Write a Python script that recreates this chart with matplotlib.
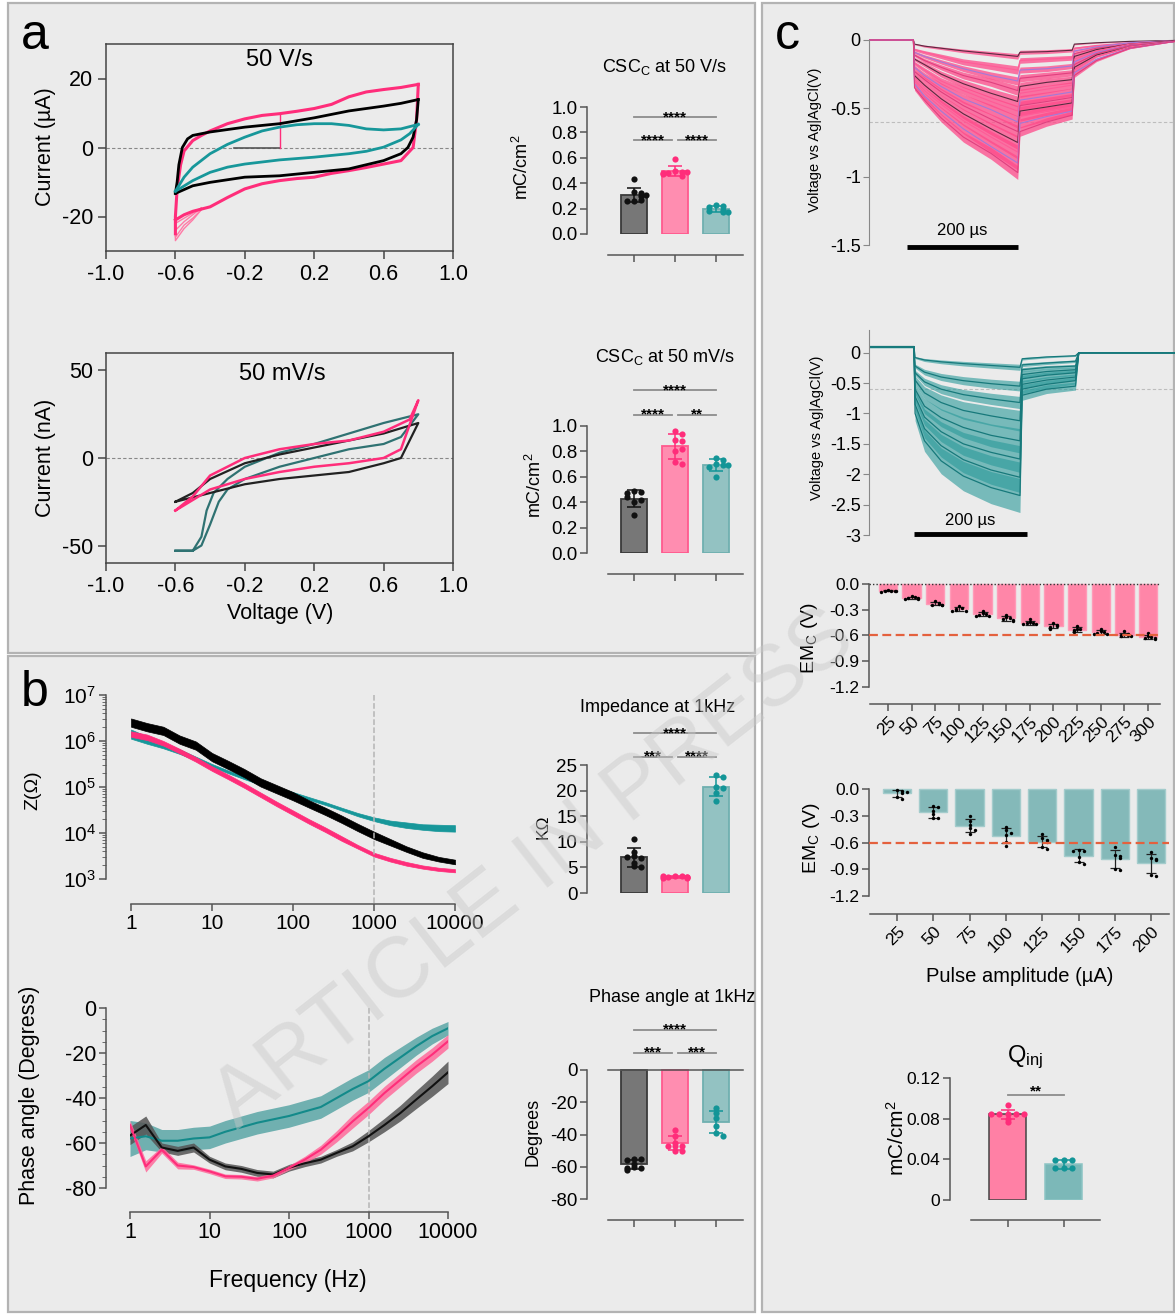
import matplotlib
matplotlib.use('Agg')
import matplotlib.pyplot as plt
import numpy as np
from matplotlib.patches import Rectangle
from matplotlib.ticker import NullLocator, NullFormatter, FixedLocator, LogFormatterMathtext

plt.rcParams['font.family'] = ['Liberation Sans', 'DejaVu Sans']
plt.rcParams['mathtext.fontset'] = 'custom'
plt.rcParams['mathtext.rm'] = 'Liberation Sans'
plt.rcParams['mathtext.it'] = 'Liberation Sans:italic'
plt.rcParams['mathtext.bf'] = 'Liberation Sans:bold'
plt.rcParams['axes.unicode_minus'] = False

# ---------------- data ----------------
# panel a, CV at 50 V/s (V, uA)
cv_fast_black_up_v = [-0.6, -0.59, -0.58, -0.56, -0.53, -0.5, -0.4, -0.2, 0.0, 0.2, 0.4, 0.6, 0.7, 0.8]
cv_fast_black_up_i = [-13.3, -10, -5, 0, 2.5, 3.5, 4.5, 5.9, 6.9, 8.6, 10.6, 12.0, 12.8, 13.9]
cv_fast_black_dn_v = [0.8, 0.79, 0.77, 0.74, 0.7, 0.6, 0.4, 0.2, 0.0, -0.2, -0.4, -0.5, -0.6]
cv_fast_black_dn_i = [13.9, 8, 3, 0, -1.8, -3.8, -6.2, -7.2, -8.2, -8.6, -10.1, -11.1, -13.3]
cv_fast_pink_up_v = [-0.6, -0.6, -0.59, -0.57, -0.55, -0.5, -0.45, -0.4, -0.3, -0.2, -0.1, 0.0, 0.1, 0.2, 0.3, 0.4, 0.5, 0.6, 0.7, 0.8]
cv_fast_pink_up_i = [-25, -20, -12, -5, -1, 2, 3.5, 4.8, 6.9, 8.3, 9.3, 9.8, 10.5, 11.3, 12.5, 14.7, 16.1, 16.8, 17.4, 18.3]
cv_fast_pink_dn_v = [0.8, 0.79, 0.77, 0.7, 0.6, 0.5, 0.4, 0.3, 0.2, 0.1, 0.0, -0.1, -0.2, -0.3, -0.4, -0.5, -0.55, -0.6]
cv_fast_pink_dn_i = [18.3, 8, 0, -3.8, -4.8, -5.8, -6.7, -7.5, -8.6, -9.0, -9.6, -10.5, -12.0, -14.5, -17.2, -18.5, -19.5, -21]
cv_fast_pink_fan_v = [-0.45, -0.5, -0.55, -0.6]
cv_fast_pink_fan_i = [[-17.5, -19.0, -20.5, -22.0], [-17.5, -19.5, -21.5, -24.0],
                      [-18.0, -20.5, -22.5, -26.0], [-18.0, -21.0, -23.5, -27.0]]
cv_fast_teal_up_v = [-0.6, -0.55, -0.5, -0.4, -0.3, -0.2, -0.1, 0.0, 0.1, 0.2, 0.3, 0.4, 0.5, 0.6, 0.7, 0.8]
cv_fast_teal_up_i = [-12.7, -8.6, -5.7, -1.8, 0.9, 3.0, 4.8, 5.9, 6.6, 6.9, 6.9, 6.4, 5.4, 5.1, 5.4, 6.7]
cv_fast_teal_dn_v = [0.8, 0.75, 0.7, 0.6, 0.5, 0.4, 0.2, 0.0, -0.2, -0.3, -0.4, -0.5, -0.6]
cv_fast_teal_dn_i = [6.7, 4.0, 2.2, 0.1, -1.1, -1.8, -2.8, -3.6, -4.8, -5.7, -7.2, -9.6, -12.7]
cv_start_v = [-0.26, 0.0, 0.0]
cv_start_i = [0.0, 0.0, 9.8]

# panel a, CV at 50 mV/s (V, nA)
cv_slow_black_v = [-0.6, -0.5, -0.4, -0.2, 0.0, 0.2, 0.4, 0.6, 0.8, 0.7, 0.6, 0.4, 0.2, 0.0, -0.2, -0.4, -0.6]
cv_slow_black_i = [-25, -20, -12, -3, 2, 6, 10, 14, 20, 0, -3, -8, -10, -12, -15, -20, -25]
cv_slow_pink_v = [-0.6, -0.5, -0.4, -0.2, 0.0, 0.2, 0.4, 0.6, 0.75, 0.8, 0.7, 0.6, 0.4, 0.2, 0.0, -0.2, -0.4, -0.6]
cv_slow_pink_i = [-30, -22, -10, 0, 5, 8, 10, 15, 22, 33, 5, 0, -3, -5, -8, -12, -18, -30]
cv_slow_teal_v = [-0.6, -0.5, -0.45, -0.42, -0.38, -0.3, -0.2, 0.0, 0.2, 0.4, 0.6, 0.8,
                  0.7, 0.6, 0.4, 0.2, 0.0, -0.2, -0.3, -0.35, -0.4, -0.45, -0.5, -0.6]
cv_slow_teal_i = [-53, -53, -45, -30, -20, -12, -5, 3, 8, 14, 20, 25,
                  12, 8, 5, 0, -5, -12, -18, -25, -38, -50, -53, -53]

# CSC bars (mC/cm2): black, pink, teal
csc_fast = [[0.43, 0.33, 0.32, 0.30, 0.31, 0.26, 0.27, 0.26],
            [0.59, 0.50, 0.49, 0.48, 0.49, 0.46, 0.47, 0.48],
            [0.23, 0.22, 0.21, 0.19, 0.17, 0.18, 0.17]]
csc_slow = [[0.49, 0.48, 0.47, 0.40, 0.42, 0.30, 0.44],
            [0.96, 0.94, 0.89, 0.88, 0.80, 0.72, 0.70, 0.82],
            [0.75, 0.73, 0.70, 0.69, 0.68, 0.69, 0.60]]

# panel b, impedance spectra
freq = [1, 1.58, 2.51, 3.98, 6.31, 10, 15.8, 25.1, 39.8, 63.1, 100, 158, 251, 398, 631,
        1000, 1585, 2512, 3981, 6310, 10000]
logz_black = [6.40, 6.30, 6.22, 6.03, 5.90, 5.65, 5.48, 5.30, 5.10, 4.95, 4.80, 4.63, 4.47,
              4.30, 4.12, 3.95, 3.80, 3.65, 3.52, 3.43, 3.37]
logz_pink = [6.15, 6.08, 5.95, 5.78, 5.60, 5.40, 5.22, 5.03, 4.83, 4.63, 4.44, 4.25, 4.07,
             3.88, 3.70, 3.53, 3.42, 3.33, 3.26, 3.21, 3.18]
logz_teal = [6.15, 6.02, 5.90, 5.77, 5.62, 5.47, 5.33, 5.20, 5.08, 4.97, 4.86, 4.75, 4.64,
             4.52, 4.40, 4.30, 4.22, 4.17, 4.13, 4.11, 4.10]
logz_black_sd = [0.09, 0.09, 0.09, 0.09, 0.09, 0.09, 0.09, 0.09, 0.09, 0.09, 0.09, 0.08, 0.08,
                 0.08, 0.08, 0.08, 0.07, 0.06, 0.06, 0.05, 0.05]
logz_pink_sd = [0.06, 0.06, 0.05, 0.05, 0.05, 0.05, 0.05, 0.05, 0.05, 0.05, 0.05, 0.05, 0.05,
                0.05, 0.04, 0.04, 0.04, 0.04, 0.035, 0.035, 0.035]
logz_teal_sd = [0.10, 0.08, 0.06, 0.05, 0.04, 0.03, 0.03, 0.03, 0.03, 0.03, 0.03, 0.03, 0.03,
                0.03, 0.035, 0.04, 0.05, 0.06, 0.06, 0.07, 0.07]
phase_black = [-56.7, -52, -62, -63.5, -62, -67.4, -70.4, -71.5, -73.3, -74, -71, -69, -67.4,
               -64.4, -61.5, -57, -52, -46.7, -40.7, -34.8, -28.6]
phase_pink = [-52, -70.4, -63, -70, -70.7, -72.6, -74.8, -75, -75.9, -74.5, -71, -67.4, -63,
              -57, -50.4, -44.4, -37.8, -31.9, -26, -20.7, -14.8]
phase_teal = [-58, -57, -59, -59, -58, -57.5, -55, -53, -51, -49.5, -48, -46, -44, -40, -36,
              -32.5, -27, -22, -17, -12.5, -9]
phase_black_sd = [4, 4, 2, 2, 2, 1.5, 1.5, 1.5, 1.5, 1.5, 1.5, 1.5, 1.5, 1.5, 2, 2.5, 3, 3.5, 4, 4.5, 5]
phase_pink_sd = [2, 2.5, 1.5, 1.5, 1, 1, 1, 1, 1, 1, 1, 1.5, 2, 2.5, 3, 3, 3, 3, 3, 3, 3]
phase_teal_sd = [8, 6, 5, 5, 5, 5, 5, 5, 5, 5, 5, 5, 5, 5, 5, 5, 5, 4.5, 4, 3.5, 3]

imp_1k = [[10.6, 8.0, 7.2, 6.8, 5.9, 5.2, 5.0, 7.0],
          [3.4, 3.3, 3.2, 3.2, 3.0, 3.1, 3.3, 2.9],
          [23.0, 22.6, 20.8, 20.6, 19.5, 18.0]]
phase_1k = [[-55, -55, -56, -58, -60, -61, -61, -62],
            [-37.5, -41, -45, -47, -47, -47, -50, -50],
            [-23.3, -26.8, -30, -34.6, -39, -40.8]]

# panel c, voltage transients (us, V)
vt_pink_t = [0, 80, 82, 100, 130, 170, 220, 268, 272, 320, 366, 370, 410, 470, 551]
vt_pink = [
    [0, 0, -0.03, -0.045, -0.06, -0.08, -0.10, -0.12, -0.09, -0.085, -0.075, -0.03, -0.02, -0.01, -0.003],
    [0, 0, -0.07, -0.09, -0.12, -0.16, -0.19, -0.22, -0.15, -0.14, -0.13, -0.06, -0.04, -0.02, -0.005],
    [0, 0, -0.09, -0.12, -0.16, -0.21, -0.26, -0.30, -0.22, -0.21, -0.19, -0.08, -0.05, -0.02, -0.005],
    [0, 0, -0.11, -0.15, -0.20, -0.26, -0.31, -0.37, -0.28, -0.26, -0.24, -0.10, -0.06, -0.03, -0.005],
    [0, 0, -0.14, -0.18, -0.25, -0.32, -0.39, -0.45, -0.34, -0.31, -0.29, -0.12, -0.07, -0.03, -0.005],
    [0, 0, -0.17, -0.22, -0.30, -0.37, -0.45, -0.52, -0.39, -0.36, -0.33, -0.14, -0.08, -0.03, -0.01],
    [0, 0, -0.20, -0.26, -0.34, -0.43, -0.51, -0.60, -0.44, -0.41, -0.38, -0.16, -0.09, -0.04, -0.01],
    [0, 0, -0.23, -0.29, -0.38, -0.48, -0.58, -0.67, -0.48, -0.45, -0.42, -0.18, -0.10, -0.04, -0.01],
    [0, 0, -0.26, -0.33, -0.43, -0.54, -0.65, -0.75, -0.52, -0.49, -0.46, -0.20, -0.11, -0.05, -0.01],
    [0, 0, -0.29, -0.37, -0.47, -0.59, -0.71, -0.82, -0.56, -0.52, -0.49, -0.22, -0.12, -0.05, -0.01],
    [0, 0, -0.32, -0.41, -0.52, -0.65, -0.78, -0.90, -0.61, -0.56, -0.52, -0.24, -0.14, -0.06, -0.01],
    [0, 0, -0.35, -0.44, -0.57, -0.71, -0.83, -0.97, -0.67, -0.60, -0.55, -0.26, -0.15, -0.06, -0.01],
]
vt_pink_sd = [0.02, 0.03, 0.03, 0.035, 0.04, 0.04, 0.045, 0.045, 0.05, 0.05, 0.05, 0.05]
vt_teal_t = [0, 81, 83, 100, 130, 170, 220, 272, 276, 320, 372, 378, 430, 551]
vt_teal = [
    [0.1, 0.1, -0.08, -0.12, -0.15, -0.18, -0.21, -0.24, -0.10, -0.07, -0.05, 0, 0, 0],
    [0.1, 0.1, -0.22, -0.32, -0.40, -0.46, -0.51, -0.55, -0.20, -0.17, -0.14, 0, 0, 0],
    [0.1, 0.1, -0.33, -0.48, -0.60, -0.69, -0.76, -0.82, -0.28, -0.24, -0.22, 0, 0, 0],
    [0.1, 0.1, -0.45, -0.66, -0.82, -0.95, -1.04, -1.12, -0.36, -0.31, -0.28, 0, 0, 0],
    [0.1, 0.1, -0.60, -0.88, -1.07, -1.23, -1.36, -1.45, -0.43, -0.37, -0.33, 0, 0, 0],
    [0.1, 0.1, -0.72, -1.06, -1.30, -1.50, -1.64, -1.75, -0.52, -0.45, -0.40, 0, 0, 0],
    [0.1, 0.1, -0.85, -1.25, -1.53, -1.76, -1.93, -2.05, -0.60, -0.52, -0.46, 0, 0, 0],
    [0.1, 0.1, -1.00, -1.45, -1.78, -2.03, -2.22, -2.35, -0.70, -0.60, -0.55, 0, 0, 0],
]
vt_teal_sd = [0.05, 0.08, 0.10, 0.17, 0.20, 0.22, 0.25, 0.28]

# EMc (V) per pulse amplitude
amp_pink = ['25', '50', '75', '100', '125', '150', '175', '200', '225', '250', '275', '300']
emc_pink = [[-0.07, -0.08, -0.08, -0.08, -0.09, -0.08], [-0.14, -0.15, -0.16, -0.16, -0.17, -0.17],
            [-0.20, -0.22, -0.23, -0.24, -0.24, -0.25], [-0.26, -0.28, -0.29, -0.30, -0.31, -0.31],
            [-0.31, -0.34, -0.35, -0.36, -0.37, -0.37], [-0.36, -0.39, -0.40, -0.41, -0.42, -0.43],
            [-0.41, -0.44, -0.45, -0.46, -0.47, -0.47], [-0.45, -0.48, -0.49, -0.50, -0.51, -0.52],
            [-0.49, -0.52, -0.53, -0.54, -0.55, -0.56], [-0.52, -0.55, -0.56, -0.57, -0.58, -0.58],
            [-0.55, -0.58, -0.59, -0.60, -0.61, -0.61], [-0.57, -0.61, -0.62, -0.63, -0.63, -0.64]]
amp_teal = ['25', '50', '75', '100', '125', '150', '175', '200']
emc_teal = [[-0.01, -0.02, -0.04, -0.03, -0.09, -0.11], [-0.19, -0.20, -0.25, -0.28, -0.32, -0.33],
            [-0.30, -0.36, -0.40, -0.44, -0.46, -0.50], [-0.43, -0.46, -0.49, -0.52, -0.59, -0.64],
            [-0.51, -0.55, -0.57, -0.59, -0.65, -0.67], [-0.68, -0.69, -0.69, -0.76, -0.82, -0.84],
            [-0.65, -0.74, -0.75, -0.77, -0.90, -0.91], [-0.71, -0.77, -0.79, -0.80, -0.96, -0.97]]
qinj = [[0.093, 0.085, 0.085, 0.085, 0.085, 0.085, 0.080, 0.077],
        [0.039, 0.039, 0.039, 0.031, 0.031, 0.031]]

# ---------------- style ----------------
PINK = '#ff2d7a'
TEAL = '#17979a'
SPINE = '#555555'
BAR_FILL = ['#777777', '#ff8db0', '#93c2c2']
BAR_EDGE = ['#3a3a3a', '#ff5a8e', '#6fb0b0']
DOT = ['#111111', '#ff2d7a', '#139597']

W, H = 1175, 1314
fig = plt.figure(figsize=(W / 100, H / 100), dpi=100, facecolor='white')


def px_axes(l, t, r, b):
    ax = fig.add_axes([l / W, 1 - b / H, (r - l) / W, (b - t) / H])
    ax.set_facecolor('none')
    return ax


def ftext(x, y, s, **kw):
    kw.setdefault('ha', 'center')
    kw.setdefault('va', 'center')
    return fig.text(x / W, 1 - y / H, s, **kw)


def open_axes(ax, size):
    for s in ['top', 'right']:
        ax.spines[s].set_visible(False)
    for s in ['left', 'bottom']:
        ax.spines[s].set_color(SPINE)
        ax.spines[s].set_linewidth(1.1)
    ax.tick_params(colors=SPINE, labelcolor='black', labelsize=size, length=5, width=1.1, pad=2)


def swarm(v, tol, step, lim=0.3):
    # spread points of similar value sideways (layout only)
    xs, done = [], []
    for y in v:
        k = sum(1 for yy in done if abs(yy - y) < tol)
        off = ((k + 1) // 2) * step * (1 if k % 2 else -1)
        xs.append(float(np.clip(off, -lim, lim)))
        done.append(y)
    return np.array(xs)


def dot_bars(ax, groups, width, fills, edges, dots, tol, s=20, errc=None):
    for i, v in enumerate(groups):
        m = np.mean(v)
        sd = np.std(v, ddof=1)
        ax.bar(i, m, width, color=fills[i], edgecolor=edges[i], lw=1.3, zorder=1)
        ax.errorbar(i, m, yerr=sd, color=errc or dots[i], capsize=5, lw=1.1, capthick=1.1, zorder=2)
        ax.scatter(i + swarm(v, tol, 0.17), v, s=s, color=dots[i], zorder=3, linewidths=0)


def sig(ax, x1, x2, y, txt, dy):
    ax.plot([x1, x2], [y, y], color='#8c8c8c', lw=1.3, clip_on=False)
    ax.text((x1 + x2) / 2, y + dy, txt, ha='center', va='center', fontsize=11, fontweight='bold')


# panel frames
for (l, t, r, b) in [(8, 3, 755, 653), (8, 656, 755, 1312), (762, 3, 1174, 1312)]:
    fig.patches.append(Rectangle((l / W, 1 - b / H), (r - l) / W, (b - t) / H, transform=fig.transFigure,
                                 facecolor='#ebebeb', edgecolor='#b3b3b3', lw=1.6, zorder=-10))

ftext(35, 36, 'a', fontsize=36)
ftext(35, 693, 'b', fontsize=36)
ftext(787, 36, 'c', fontsize=36)


# ---------------- panel a: CV curves ----------------
def cv_box(ax, ylim, yticks):
    ax.set_xlim(-1, 1)
    ax.set_ylim(*ylim)
    ax.set_xticks([-1.0, -0.6, -0.2, 0.2, 0.6, 1.0])
    ax.set_xticklabels(['-1.0', '-0.6', '-0.2', '0.2', '0.6', '1.0'])
    ax.set_yticks(yticks)
    for s in ax.spines.values():
        s.set_color('#444444')
        s.set_linewidth(1.1)
    ax.tick_params(colors='#444444', labelcolor='black', labelsize=15.5, length=6, width=1.1, pad=3)
    ax.axhline(0, color='#888888', lw=0.8, ls=(0, (3, 2)), zorder=0)


ax = px_axes(106, 44, 453, 251)
cv_box(ax, (-30, 30), [-20, 0, 20])
ax.plot(cv_start_v[:2], cv_start_i[:2], color='#555555', lw=1.2)
ax.plot(cv_start_v[1:], cv_start_i[1:], color=PINK, lw=1.0)
for fi in cv_fast_pink_fan_i:
    ax.plot(cv_fast_pink_fan_v + [-0.6], fi + [-20], color='#ff7aa6', lw=1.0)
ax.plot(cv_fast_pink_up_v, cv_fast_pink_up_i, color=PINK, lw=2.2)
ax.plot(cv_fast_pink_dn_v, cv_fast_pink_dn_i, color=PINK, lw=2.2)
ax.plot(cv_fast_black_up_v, cv_fast_black_up_i, color='black', lw=2.0)
ax.plot(cv_fast_black_dn_v, cv_fast_black_dn_i, color='black', lw=2.0)
ax.plot(cv_fast_teal_up_v, cv_fast_teal_up_i, color=TEAL, lw=2.0)
ax.plot(cv_fast_teal_dn_v, cv_fast_teal_dn_i, color=TEAL, lw=2.0)
ftext(279, 60, '50 V/s', fontsize=17)
ftext(45, 147, 'Current (µA)', fontsize=15.5, rotation=90)

ax = px_axes(106, 353, 453, 563)
cv_box(ax, (-60, 60), [-50, 0, 50])
ax.plot(cv_slow_teal_v, cv_slow_teal_i, color='#2f7272', lw=1.6)
ax.plot(cv_slow_black_v, cv_slow_black_i, color='#222222', lw=1.6)
ax.plot(cv_slow_pink_v, cv_slow_pink_i, color=PINK, lw=1.8)
ftext(282, 374, '50 mV/s', fontsize=17)
ftext(45, 458, 'Current (nA)', fontsize=15.5, rotation=90)
ftext(280, 613, 'Voltage (V)', fontsize=15.5)

# ---------------- panel a: CSC bars ----------------
BX0, BDX = 634, 41
BW = 26 / 41
XL, XR = (608 - BX0) / BDX, (743 - BX0) / BDX


def three_bar_axes(t, b, y0, y1, v1):
    # t, b pixel extents; y0 pixel of value 0; y1 pixel of value v1
    ax = px_axes(587, t, 743, b)
    scale = (y0 - y1) / v1
    ax.set_ylim((y0 - b) / scale, (y0 - t) / scale)
    ax.set_xlim((587 - BX0) / BDX, (743 - BX0) / BDX)
    return ax


def bar_xaxis(ax):
    ax.spines['bottom'].set_position(('outward', 21 * 0.72))
    ax.spines['bottom'].set_bounds(XL, XR)
    ax.set_xticks([0, 1, 2])
    ax.set_xticklabels([])


ax = three_bar_axes(100, 234, 234, 107, 1.0)
open_axes(ax, 13.5)
dot_bars(ax, csc_fast, BW, BAR_FILL, BAR_EDGE, DOT, 0.025)
ax.set_yticks(np.arange(0, 1.01, 0.2))
ax.set_yticklabels(['0.0', '0.2', '0.4', '0.6', '0.8', '1.0'])
ax.spines['left'].set_bounds(0, 1)
bar_xaxis(ax)
sig(ax, 0, 0.93, 0.74, '****', 0.0)
sig(ax, 1.07, 2, 0.74, '****', 0.0)
sig(ax, 0, 2, 0.92, '****', 0.0)
ftext(665, 67, r'CSC$_{\rm C}$ at 50 V/s', fontsize=13)
ftext(522, 167, r'mC/cm$^{\rm 2}$', fontsize=13, rotation=90)

ax = three_bar_axes(380, 553, 553, 426, 1.0)
open_axes(ax, 13.5)
dot_bars(ax, csc_slow, BW, BAR_FILL, BAR_EDGE, DOT, 0.03)
ax.set_yticks(np.arange(0, 1.01, 0.2))
ax.set_yticklabels(['0.0', '0.2', '0.4', '0.6', '0.8', '1.0'])
ax.spines['left'].set_bounds(0, 1)
bar_xaxis(ax)
sig(ax, 0, 0.93, 1.09, '****', 0.0)
sig(ax, 1.07, 2, 1.09, '**', 0.0)
sig(ax, 0, 2, 1.28, '****', 0.0)
ftext(665, 357, r'CSC$_{\rm C}$ at 50 mV/s', fontsize=13)
ftext(535, 485, r'mC/cm$^{\rm 2}$', fontsize=13, rotation=90)

# ---------------- panel b: impedance ----------------
fticks = [1, 10, 100, 1000, 10000]
ax = px_axes(131, 695, 455, 879)
ax.set_xscale('log')
ax.set_yscale('log')
ax.set_xlim(1, 1e4)
ax.set_ylim(1e3, 1e7)
open_axes(ax, 15)
ax.spines['left'].set_position(('outward', 25 * 0.72))
ax.spines['bottom'].set_position(('outward', 25 * 0.72))
ax.set_xticks(fticks)
ax.set_xticklabels([str(f) for f in fticks])
ax.xaxis.set_minor_locator(NullLocator())
ax.set_yticks([1e3, 1e4, 1e5, 1e6, 1e7])
ax.yaxis.set_major_formatter(LogFormatterMathtext())
ax.yaxis.set_minor_locator(FixedLocator([m * 10 ** e for e in range(3, 7) for m in range(2, 10)]))
ax.yaxis.set_minor_formatter(NullFormatter())
ax.tick_params(axis='y', which='minor', length=3, color=SPINE)
ax.plot([1000, 1000], [1e7, 10 ** (3 - 25 / 46)], color='#b5b5b5', ls='--', lw=1.1, clip_on=False)
for m, sd, c in [(logz_teal, logz_teal_sd, TEAL), (logz_black, logz_black_sd, 'black'),
                 (logz_pink, logz_pink_sd, PINK)]:
    m = np.array(m)
    sd = np.array(sd)
    ax.fill_between(freq, 10 ** (m - sd), 10 ** (m + sd), color=c, lw=0.5)
ftext(33, 790, 'Z(Ω)', fontsize=14, rotation=90)

ax = px_axes(130, 1008, 448, 1188)
ax.set_xscale('log')
ax.set_xlim(1, 1e4)
ax.set_ylim(-80, 0)
open_axes(ax, 15.5)
ax.spines['left'].set_position(('outward', 24 * 0.72))
ax.spines['bottom'].set_position(('outward', 24 * 0.72))
ax.set_xticks(fticks)
ax.set_xticklabels([str(f) for f in fticks])
ax.xaxis.set_minor_locator(NullLocator())
ax.set_yticks([0, -20, -40, -60, -80])
ax.yaxis.set_minor_locator(FixedLocator(np.arange(-80, 1, 5)))
ax.tick_params(axis='y', which='minor', length=3, color=SPINE)
ax.plot([1000, 1000], [0, -80 - 24 / 2.25], color='#b5b5b5', ls='--', lw=1.1, clip_on=False)
for m, sd, fc, lc in [(phase_teal, phase_teal_sd, '#5aa6a6', '#138a8a'),
                      (phase_black, phase_black_sd, '#555555', '#111111'),
                      (phase_pink, phase_pink_sd, '#ff6b9b', PINK)]:
    m = np.array(m)
    sd = np.array(sd)
    ax.fill_between(freq, m - sd, m + sd, color=fc, alpha=0.85, lw=0)
    ax.plot(freq, m, color=lc, lw=1.5)
ftext(30, 1095, 'Phase angle (Degress)', fontsize=15.5, rotation=90)
ftext(288, 1280, 'Frequency (Hz)', fontsize=16.5)

# impedance / phase bars at 1 kHz
ax = three_bar_axes(725, 893, 893, 765, 25)
open_axes(ax, 13.5)
dot_bars(ax, imp_1k, BW, BAR_FILL, BAR_EDGE, DOT, 0.6)
ax.set_yticks([0, 5, 10, 15, 20, 25])
ax.spines['left'].set_bounds(0, 25)
ax.spines['bottom'].set_visible(False)
ax.set_xticks([])
sig(ax, 0, 0.93, 26.6, '***', 0.0)
sig(ax, 1.07, 2, 26.6, '****', 0.0)
sig(ax, 0, 2, 31.2, '****', 0.0)
ftext(658, 707, 'Impedance at 1kHz', fontsize=13)
ftext(543, 827, 'KΩ', fontsize=12.5, rotation=90)

ax = three_bar_axes(1020, 1199, 1070, 1199, -80)
open_axes(ax, 13.5)
dot_bars(ax, phase_1k, BW, BAR_FILL, BAR_EDGE, DOT, 2.0)
ax.set_yticks([0, -20, -40, -60, -80])
ax.spines['left'].set_bounds(-80, 0)
bar_xaxis(ax)
ax.plot([XL, XR], [0, 0], color=SPINE, lw=1.1, clip_on=False)
sig(ax, 0, 0.93, 10.7, '***', 0.0)
sig(ax, 1.07, 2, 10.7, '***', 0.0)
sig(ax, 0, 2, 25, '****', 0.0)
ftext(672, 997, 'Phase angle at 1kHz', fontsize=13)
ftext(533, 1132, 'Degrees', fontsize=13, rotation=90)

# ---------------- panel c: voltage transients ----------------
TX = 0.555  # px per us


def vt_axes(t, b, y0, px_per_v, lo, hi):
    ax = px_axes(869, t, 1175, b)
    ax.set_xlim(0, (1175 - 869) / TX)
    ax.set_ylim(-(b - y0) / px_per_v, (y0 - t) / px_per_v)
    for s in ['top', 'right', 'bottom']:
        ax.spines[s].set_visible(False)
    ax.spines['left'].set_color('#888888')
    ax.spines['left'].set_bounds(lo, hi)
    ax.set_xticks([])
    ax.tick_params(axis='y', colors='#888888', labelcolor='black', labelsize=13, length=4, pad=2)
    ax.axhline(-0.6, color='#bdbdbd', lw=0.8, ls=(0, (3, 2)), zorder=0)
    return ax


ax = vt_axes(30, 250, 40, 136.7, -1.5, 0)
ax.set_yticks([0, -0.5, -1, -1.5])
ax.set_yticklabels(['0', '-0.5', '-1', '-1.5'])
line_cols = ['#5a2a40', '#ff5c98', '#a27ad8', '#e0407f']
for k, (v, sd) in enumerate(zip(vt_pink, vt_pink_sd)):
    v = np.array(v)
    w = sd * np.abs(v) / np.abs(v).max()
    ax.fill_between(vt_pink_t, v - w, v + w, color='#ff4a8a', alpha=0.75, lw=0)
    ax.plot(vt_pink_t, v, color=line_cols[k % 4], lw=0.8)
ax.plot([68, 268], [-1.515, -1.515], color='black', lw=3.5, clip_on=False, solid_capstyle='butt')
ftext(962, 231, '200 µs', fontsize=12)
ftext(815, 140, 'Voltage vs Ag|AgCl(V)', fontsize=10.5, rotation=90)

ax = vt_axes(325, 540, 352.7, 60.77, -3, 0.38)
ax.set_yticks([0, -0.5, -1, -1.5, -2, -2.5, -3])
ax.set_yticklabels(['0', '-0.5', '-1', '-1.5', '-2', '-2.5', '-3'])
for k, (v, sd) in enumerate(zip(vt_teal, vt_teal_sd)):
    v = np.array(v)
    w = sd * np.abs(v) / np.abs(v).max()
    ax.fill_between(vt_teal_t, v - w, v + w, color='#2a9a9a', alpha=0.6, lw=0)
    ax.plot(vt_teal_t, v, color='#17797b', lw=0.9)
ax.plot([81, 285], [-2.99, -2.99], color='black', lw=3.5, clip_on=False, solid_capstyle='butt')
ftext(970, 521, '200 µs', fontsize=12)
ftext(817, 428, 'Voltage vs Ag|AgCl(V)', fontsize=10.5, rotation=90)


# ---------------- panel c: EMc bars ----------------
def emc_axes(t, b, y0, px_per_v, c0, dx, right, xspine_px):
    ax = px_axes(869, t, right, b)
    ax.set_ylim(-(b - y0) / px_per_v, (y0 - t) / px_per_v)
    ax.set_xlim((869 - c0) / dx, (right - c0) / dx)
    open_axes(ax, 12.5)
    ax.spines['left'].set_bounds(-1.2, 0)
    ax.spines['bottom'].set_position(('outward', (xspine_px - b) * 0.72))
    ax.spines['bottom'].set_bounds((870 - c0) / dx, (right - c0) / dx)
    ax.set_yticks([0, -0.3, -0.6, -0.9, -1.2])
    ax.set_yticklabels(['0.0', '-0.3', '-0.6', '-0.9', '-1.2'])
    ax.axhline(-0.6, color='#e4613e', lw=1.6, ls=(0, (4, 2)), zorder=5)
    return ax


def emc_bars(ax, groups, fill, edge, tol):
    for i, v in enumerate(groups):
        m = np.mean(v)
        sd = np.std(v, ddof=1)
        ax.bar(i, m, 0.78, color=fill, edgecolor=edge, lw=1, zorder=1)
        ax.errorbar(i, m, yerr=sd, color='#222222', capsize=3.5, lw=0.9, capthick=0.9, zorder=2)
        ax.scatter(i + swarm(v, tol, 0.14, 0.34), v, s=6, color='black', zorder=3, linewidths=0)


ax = emc_axes(580, 690, 584, 85.8, 888, 23.64, 1160, 704)
emc_bars(ax, emc_pink, '#ff86a8', '#ff9bb8', 0.03)
ax.axhline(0, color='#333333', lw=1, ls=(0, (1, 1.5)), zorder=4)
ax.set_xticks(range(len(amp_pink)))
ax.set_xticklabels(amp_pink, rotation=45, ha='right', rotation_mode='anchor')
ftext(810, 638, r'EM$_{\rm C}$ (V)', fontsize=14, rotation=90)

ax = emc_axes(783, 900, 789, 89.2, 897, 36.3, 1169, 914)
emc_bars(ax, emc_teal, '#84b9b9', '#a3cccc', 0.03)
ax.set_xticks(range(len(amp_teal)))
ax.set_xticklabels(amp_teal, rotation=45, ha='right', rotation_mode='anchor')
ftext(812, 838, r'EM$_{\rm C}$ (V)', fontsize=14, rotation=90)
ftext(1020, 977, 'Pulse amplitude (µA)', fontsize=14.5)

# ---------------- panel c: Qinj ----------------
ax = px_axes(950, 1075, 1100, 1200)
ax.set_ylim(0, (1200 - 1075) / 1016.7)
ax.set_xlim((950 - 1007.7) / 55.8, (1100 - 1007.7) / 55.8)
open_axes(ax, 12.5)
for i, v in enumerate(qinj):
    m = np.mean(v)
    sd = np.std(v, ddof=1)
    fc, ec, dc = [('#ff80a5', '#444444', '#ff2d7a'), ('#7cb8b8', '#8cc4c4', '#139597')][i]
    ax.bar(i, m, 0.66, color=fc, edgecolor=ec, lw=1.1, zorder=1)
    ax.errorbar(i, m, yerr=sd, color=dc, capsize=5, lw=1.1, capthick=1.1, zorder=2)
    ax.scatter(i + swarm(v, 0.002, 0.15, 0.33), v, s=20, color=dc, zorder=3, linewidths=0)
ax.set_yticks([0, 0.04, 0.08, 0.12])
ax.set_yticklabels(['0', '0.04', '0.08', '0.12'])
ax.spines['left'].set_bounds(0, 0.12)
ax.spines['bottom'].set_position(('outward', 20 * 0.72))
ax.spines['bottom'].set_bounds((971 - 1007.7) / 55.8, (1100 - 1007.7) / 55.8)
ax.set_xticks([0, 1])
ax.set_xticklabels([])
sig(ax, 0, 1, 0.1036, '**', 0.003)
ftext(1025, 1057, r'Q$_{\rm inj}$', fontsize=17)
ftext(897, 1138, r'mC/cm$^{\rm 2}$', fontsize=15, rotation=90)

# watermark
ftext(535, 870, 'ARTICLE IN PRESS', fontsize=62, rotation=38, color='#c9c9c9', alpha=0.45, zorder=50)

fig.savefig('out.png', dpi=100, facecolor=fig.get_facecolor())
